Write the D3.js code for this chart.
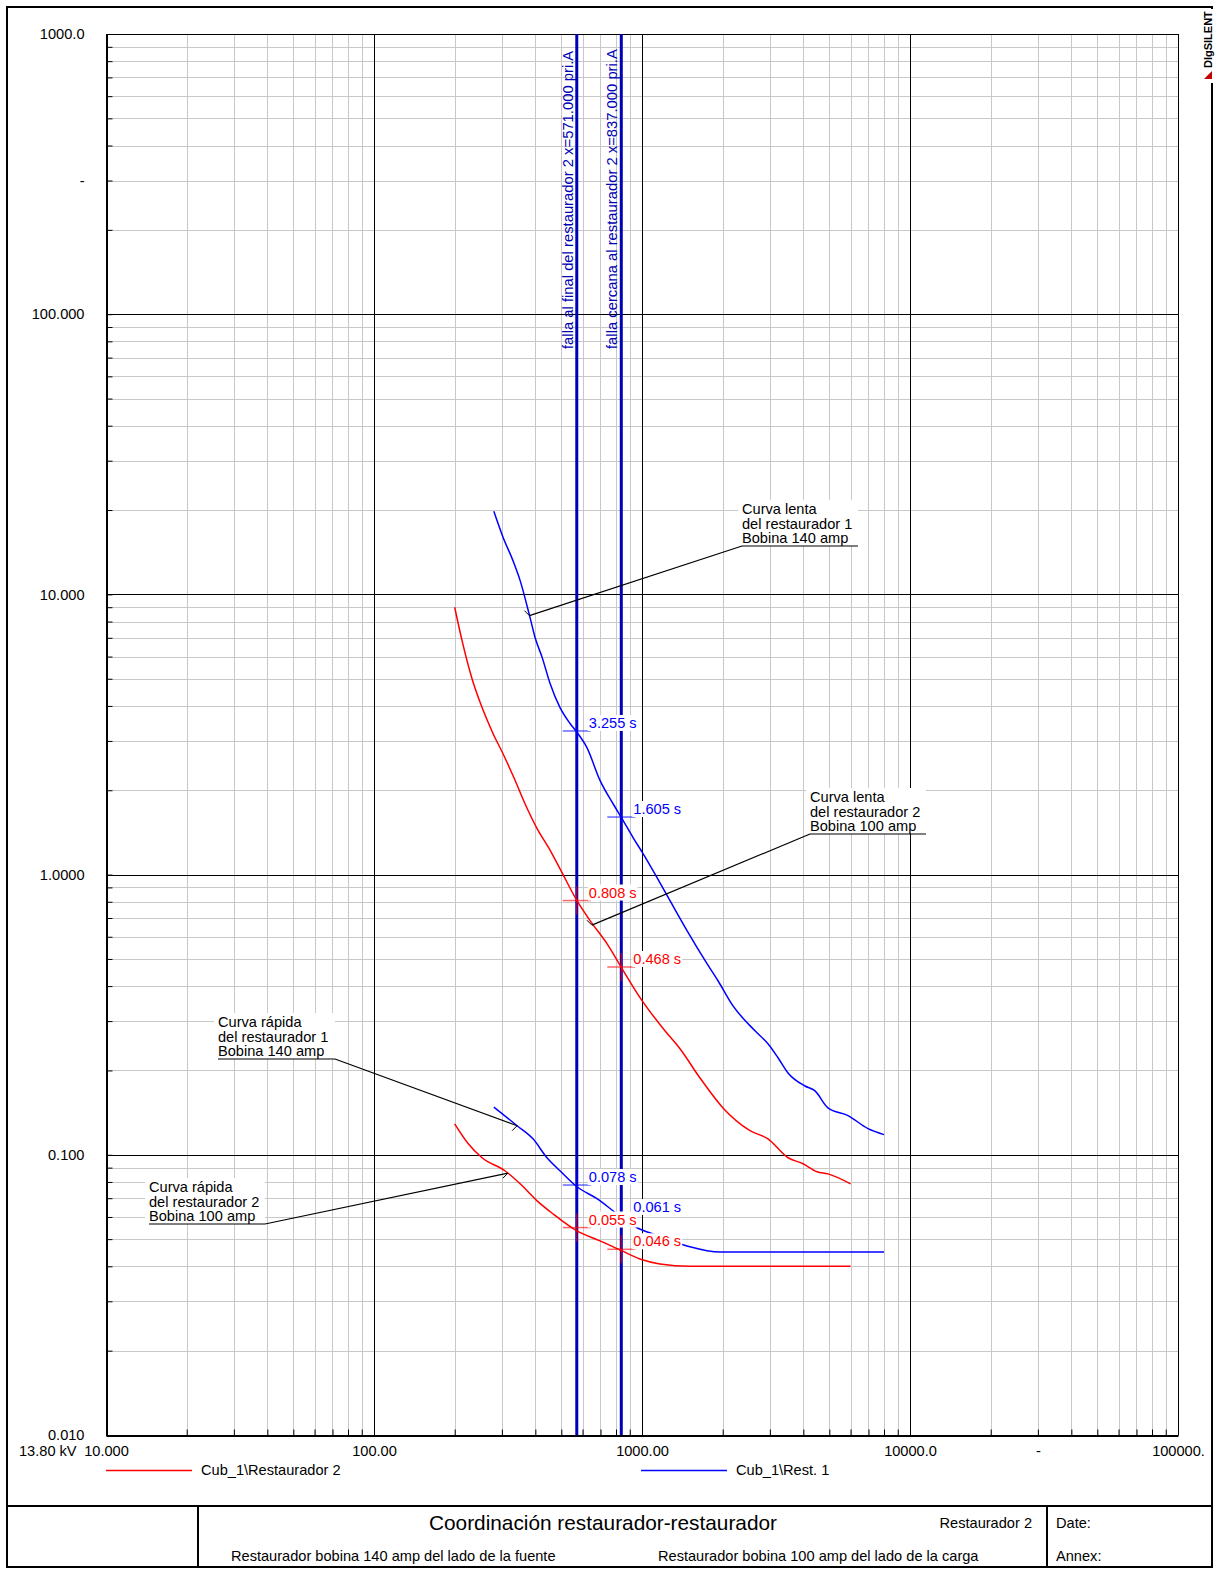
<!DOCTYPE html>
<html>
<head>
<meta charset="utf-8">
<script src="https://cdn.jsdelivr.net/npm/d3@7/dist/d3.min.js"></script>
<style>
  body { margin: 0; background: #fff; }
  svg text { font-family: "Liberation Sans", Arial, sans-serif; }
</style>
</head>
<body>
<svg id="chart" width="1217" height="1570"></svg>
<script>
// curves: [current (pri.A), time (s)]
const rest1Slow = [[280,19.8],[303,16.0],[330,13.2],[351,11.2],[382,8.28],[399,7.02],[424,5.96],[454,4.81],
  [494,3.95],[539,3.46],[572,3.22],[623,2.84],[697,2.17],[780,1.79],[842,1.585],[926,1.356],[1009,1.189],
  [1138,0.976],[1272,0.807],[1472,0.631],[1748,0.481],[1921,0.418],[2186,0.340],[2640,0.277],[2952,0.249],
  [3217,0.222],[3506,0.196],[4057,0.176],[4421,0.169],[4943,0.147],[5870,0.138],[6970,0.124],[8000,0.118]];
const rest2Slow = [[200,9.0],[213,6.85],[232,5.01],[249,4.11],[278,3.19],[303,2.70],[336,2.17],[366,1.79],
  [406,1.46],[450,1.24],[494,1.05],[572,0.807],[640,0.685],[740,0.567],[842,0.462],[983,0.364],[1218,0.277],
  [1386,0.239],[1646,0.188],[2005,0.147],[2529,0.122],[2952,0.114],[3506,0.0976],[3989,0.0929],[4498,0.0870],
  [4943,0.0855],[6000,0.0788]];
const rest1Fast = [[280,0.148],[342,0.127],[392,0.114],[442,0.0976],[494,0.0877],[572,0.0769],[679,0.0697],
  [807,0.0616],[958,0.0549],[1099,0.0522],[1472,0.0473],[1954,0.045],[8000,0.045]];
const rest2Fast = [[200,0.129],[224,0.110],[253,0.0976],[308,0.0877],[351,0.0788],[406,0.0685],[465,0.0616],
  [572,0.0535],[697,0.0493],[842,0.0454],[983,0.0425],[1167,0.0408],[1511,0.040],[6000,0.040]];

// fault currents and trip times at them
const faultCurrents = [571, 837];
const faultNames = ["falla al final del restaurador 2", "falla cercana al restaurador 2"];
const rest1SlowTimes = [3.255, 1.605];
const rest2SlowTimes = [0.808, 0.468];
const rest1FastTimes = [0.078, 0.061];
const rest2FastTimes = [0.055, 0.046];

// axis labels
const xLabelValues = [10, 100, 1000, 10000, 30000, 100000];
const xLabelTexts = ["10.000", "100.00", "1000.00", "10000.0", "-", "100000."];
const yLabelValues = [0.01, 0.1, 1, 10, 100, 300, 1000];
const yLabelTexts = ["0.010", "0.100", "1.0000", "10.000", "100.000", "-", "1000.0"];

const RED = "#ff0000", BLUE = "#0000ff", FAULT = "#0000b4";
const FS = 14.6;

const svg = d3.select("#chart");
const x = d3.scaleLog().domain([10, 100000]).range([106, 1178]);
const y = d3.scaleLog().domain([0.01, 1000]).range([1435, 34]);
const px = v => Math.round(x(v)) + 0.5;
const py = v => Math.round(y(v)) + 0.5;
const isMajor = v => Math.abs(Math.log10(v) - Math.round(Math.log10(v))) < 1e-9;

// page frame
svg.append("rect").attr("x", 7).attr("y", 7).attr("width", 1205).attr("height", 1560)
  .attr("fill", "none").attr("stroke", "#000").attr("stroke-width", 2);

// grid
const grid = svg.append("g");
const xt = x.ticks(), yt = y.ticks();
grid.selectAll(".vx").data(xt.filter(d => !isMajor(d))).enter().append("line")
  .attr("x1", px).attr("x2", px).attr("y1", 34).attr("y2", 1435)
  .attr("stroke", "#c8c8c8");
grid.selectAll(".hy").data(yt.filter(d => !isMajor(d))).enter().append("line")
  .attr("y1", py).attr("y2", py).attr("x1", 106).attr("x2", 1178)
  .attr("stroke", "#c8c8c8");
grid.selectAll(".vX").data(xt.filter(isMajor)).enter().append("line")
  .attr("x1", px).attr("x2", px).attr("y1", 34).attr("y2", 1435)
  .attr("stroke", "#000");
grid.selectAll(".hY").data(yt.filter(isMajor)).enter().append("line")
  .attr("y1", py).attr("y2", py).attr("x1", 106).attr("x2", 1178)
  .attr("stroke", "#000");

// axes
const yAxis = d3.axisLeft(y).tickValues(yt).tickSize(-6).tickSizeOuter(0).tickPadding(22)
  .tickFormat(d => { const i = yLabelValues.findIndex(v => Math.abs(v - d) / v < 1e-6); return i < 0 ? "" : yLabelTexts[i]; });
const gy = svg.append("g").attr("transform", "translate(106.5,0)").call(yAxis);
const xAxis = d3.axisBottom(x).tickValues(xt).tickSize(-6).tickSizeOuter(0).tickPadding(10)
  .tickFormat(d => { const i = xLabelValues.findIndex(v => Math.abs(v - d) / v < 1e-6); return i < 0 ? "" : xLabelTexts[i]; });
const gx = svg.append("g").attr("transform", "translate(0,1435.5)").call(xAxis);
[gx, gy].forEach(g => {
  g.selectAll("text").attr("font-size", FS).attr("fill", "#000")
    .attr("font-family", "'Liberation Sans', Arial, sans-serif");
  g.selectAll("line").attr("stroke", "#000");
  g.select(".domain").attr("stroke", "#000").attr("stroke-width", 2);
});
svg.append("text").attr("x", 19).attr("y", 1456).attr("font-size", FS).text("13.80 kV");

// fault lines
faultCurrents.forEach((c, i) => {
  svg.append("line").attr("x1", x(c)).attr("x2", x(c)).attr("y1", 34).attr("y2", 1435)
    .attr("stroke", FAULT).attr("stroke-width", 3);
  svg.append("text")
    .attr("transform", `translate(${x(c) - 4},${349}) rotate(-90)`)
    .attr("font-size", 14.8).attr("fill", FAULT)
    .text(`${faultNames[i]} x=${c.toFixed(3)} pri.A`);
});

// curves
const line = d3.line().x(d => x(d[0])).y(d => y(d[1])).curve(d3.curveMonotoneX);
[[rest2Slow, RED], [rest2Fast, RED], [rest1Slow, BLUE], [rest1Fast, BLUE]].forEach(([data, col]) => {
  svg.append("path").datum(data).attr("d", line)
    .attr("fill", "none").attr("stroke", col).attr("stroke-width", 1.5);
});

// trip markers
const markers = [
  [rest1SlowTimes, BLUE], [rest2SlowTimes, RED], [rest1FastTimes, BLUE], [rest2FastTimes, RED]
];
markers.forEach(([times, col]) => {
  times.forEach((t, i) => {
    const cx = x(faultCurrents[i]), cy = y(t);
    const g = svg.append("g");
    g.append("line").attr("x1", cx - 14).attr("x2", cx + 14).attr("y1", cy).attr("y2", cy)
      .attr("stroke", col).attr("stroke-opacity", 0.6).attr("stroke-width", 1.5);
    g.append("line").attr("x1", cx).attr("x2", cx).attr("y1", cy - 14).attr("y2", cy + 14)
      .attr("stroke", col).attr("stroke-opacity", 0.6).attr("stroke-width", 1.5);
    const txt = g.append("text").attr("x", cx + 12).attr("y", cy - 3)
      .attr("font-size", FS).attr("fill", col).text(t.toFixed(3) + " s");
    const bb = txt.node().getBBox();
    g.insert("rect", "text").attr("x", bb.x - 1).attr("y", bb.y).attr("width", bb.width + 2)
      .attr("height", bb.height).attr("fill", "#fff");
  });
});

// curve notes
const notes = [
  { lines: ["Curva lenta", "del restaurador 1", "Bobina 140 amp"], tx: 742, ty: 509, w: 116, at: [380, 8.4] },
  { lines: ["Curva lenta", "del restaurador 2", "Bobina 100 amp"], tx: 810, ty: 797, w: 116, at: [650, 0.66] },
  { lines: ["Curva rápida", "del restaurador 1", "Bobina 140 amp"], tx: 218, ty: 1022, w: 117, at: [342, 0.127] },
  { lines: ["Curva rápida", "del restaurador 2", "Bobina 100 amp"], tx: 149, ty: 1187, w: 116, at: [316, 0.086] }
];
notes.forEach(n => {
  const g = svg.append("g");
  const uy = n.ty + 37;
  g.append("rect").attr("x", n.tx - 4).attr("y", n.ty - 9).attr("width", n.w + 4).attr("height", uy - n.ty + 9)
    .attr("fill", "#fff");
  n.lines.forEach((l, i) => g.append("text").attr("x", n.tx).attr("y", n.ty + 5 + i * 14.5)
    .attr("font-size", FS).text(l));
  const ax = x(n.at[0]), ay = y(n.at[1]);
  const sx = ax < n.tx ? n.tx : n.tx + n.w;
  g.append("line").attr("x1", n.tx).attr("x2", n.tx + n.w).attr("y1", uy).attr("y2", uy)
    .attr("stroke", "#000").attr("stroke-width", 1.2);
  g.append("line").attr("x1", sx).attr("y1", uy).attr("x2", ax).attr("y2", ay)
    .attr("stroke", "#000").attr("stroke-width", 1.2);
  g.append("line").attr("x1", ax).attr("y1", ay).attr("x2", ax - 5).attr("y2", ay - 5 * (ax < n.tx ? 1 : -1))
    .attr("stroke", "#000");
});

// legend
const legend = [["Cub_1\\Restaurador 2", RED, 106], ["Cub_1\\Rest. 1", BLUE, 641]];
legend.forEach(([name, col, lx]) => {
  svg.append("line").attr("x1", lx).attr("x2", lx + 86).attr("y1", 1470.5).attr("y2", 1470.5)
    .attr("stroke", col).attr("stroke-width", 1.5);
  svg.append("text").attr("x", lx + 95).attr("y", 1475).attr("font-size", FS).text(name);
});

// logo
svg.append("rect").attr("x", 1200).attr("y", 9).attr("width", 16).attr("height", 74).attr("fill", "#fff");
svg.append("text").attr("transform", "translate(1212,68) rotate(-90)")
  .attr("font-size", 11).attr("font-weight", "bold").text("DIgSILENT");
svg.append("path").attr("d", "M1204,79 L1212,71 L1212,79 Z").attr("fill", "#c00000");

// title block
const tb = svg.append("g");
tb.append("line").attr("x1", 7).attr("x2", 1212).attr("y1", 1506).attr("y2", 1506).attr("stroke", "#000").attr("stroke-width", 2);
tb.append("line").attr("x1", 198).attr("x2", 198).attr("y1", 1506).attr("y2", 1567).attr("stroke", "#000").attr("stroke-width", 2);
tb.append("line").attr("x1", 1047).attr("x2", 1047).attr("y1", 1506).attr("y2", 1567).attr("stroke", "#000").attr("stroke-width", 2);
tb.append("text").attr("x", 603).attr("y", 1530).attr("font-size", 20.8).attr("text-anchor", "middle")
  .text("Coordinación restaurador-restaurador");
tb.append("text").attr("x", 1032).attr("y", 1528).attr("font-size", FS).attr("text-anchor", "end").text("Restaurador 2");
tb.append("text").attr("x", 1056).attr("y", 1528).attr("font-size", FS).text("Date:");
tb.append("text").attr("x", 1056).attr("y", 1561).attr("font-size", FS).text("Annex:");
tb.append("text").attr("x", 231).attr("y", 1561).attr("font-size", FS).text("Restaurador bobina 140 amp del lado de la fuente");
tb.append("text").attr("x", 658).attr("y", 1561).attr("font-size", FS).text("Restaurador bobina 100 amp del lado de la carga");
</script>
</body>
</html>
